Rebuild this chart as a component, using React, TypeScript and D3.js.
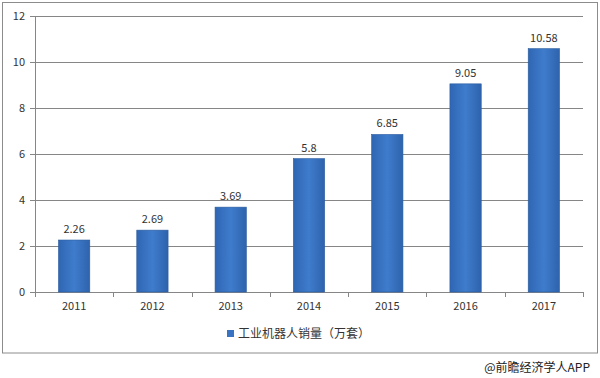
import React from "react";
import * as d3 from "d3";

const categories = ["2011", "2012", "2013", "2014", "2015", "2016", "2017"];
const values = [2.26, 2.69, 3.69, 5.8, 6.85, 9.05, 10.58];
const valueLabels = ["2.26", "2.69", "3.69", "5.8", "6.85", "9.05", "10.58"];
const yTicks = [0, 2, 4, 6, 8, 10, 12];
const seriesName = "工业机器人销量（万套）";
const credit = "@前瞻经济学人APP";

const W = 600;
const H = 378;
const font = "'Microsoft YaHei', 'Noto Sans CJK SC', Arial, sans-serif";

export default function App() {
  const left = 35;
  const right = 583;
  const top = 16;
  const bottom = 292;

  const x = d3.scaleBand<string>().domain(categories).range([left, right]).paddingInner(0.6).paddingOuter(0.3);
  const xb = d3.scaleBand<string>().domain(categories).range([left, right]);
  const y = d3.scaleLinear().domain([0, 12]).range([bottom, top]);

  return (
    <svg width={W} height={H} style={{ position: "absolute", left: 0, top: 0, background: "#fff" }}>
      <defs>
        <linearGradient id="barGrad" x1="0" x2="1" y1="0" y2="0">
          <stop offset="0%" stopColor="#2f66b3" />
          <stop offset="50%" stopColor="#3f7ccc" />
          <stop offset="100%" stopColor="#2e63ad" />
        </linearGradient>
      </defs>
      <rect x={2.5} y={2.5} width={595} height={350.5} fill="#fff" stroke="#8c8c8c" strokeWidth={1} />
      {yTicks.map((t) => (
        <g key={t}>
          <line x1={left - 5} x2={right} y1={Math.round(y(t)) + 0.5} y2={Math.round(y(t)) + 0.5} stroke={t === 0 ? "#868686" : "#868686"} strokeWidth={1} />
          <text x={left - 10} y={y(t) + 4} textAnchor="end" fontSize={11} fill="#333" fontFamily={font}>
            {t}
          </text>
        </g>
      ))}
      <line x1={left + 0.5} x2={left + 0.5} y1={top} y2={bottom} stroke="#868686" />
      {categories.map((c, i) => (
        <line key={"t" + c} x1={Math.round(xb(c)! ) + 0.5} x2={Math.round(xb(c)!) + 0.5} y1={bottom} y2={bottom + 5} stroke="#868686" />
      ))}
      <line x1={right + 0.5} x2={right + 0.5} y1={bottom} y2={bottom + 5} stroke="#868686" />
      {categories.map((c, i) => (
        <g key={c}>
          <rect
            x={x(c)!}
            y={y(values[i])}
            width={x.bandwidth()}
            height={bottom - y(values[i])}
            fill="url(#barGrad)"
            stroke="#2b5c9f"
            strokeWidth={0.6}
          />
          <text x={x(c)! + x.bandwidth() / 2} y={y(values[i]) - 7} textAnchor="middle" fontSize={11} fill="#333" fontFamily={font}>
            {valueLabels[i]}
          </text>
          <text x={xb(c)! + xb.bandwidth() / 2} y={bottom + 18} textAnchor="middle" fontSize={11} fill="#333" fontFamily={font}>
            {c}
          </text>
        </g>
      ))}
      <rect x={227} y={330} width={7} height={7} fill="#3a73c1" />
      <text x={238} y={338} fontSize={12} fill="#333" fontFamily={font}>
        {seriesName}
      </text>
      <text x={590} y={372} textAnchor="end" fontSize={12} fill="#222" fontFamily={font}>
        {credit}
      </text>
    </svg>
  );
}
